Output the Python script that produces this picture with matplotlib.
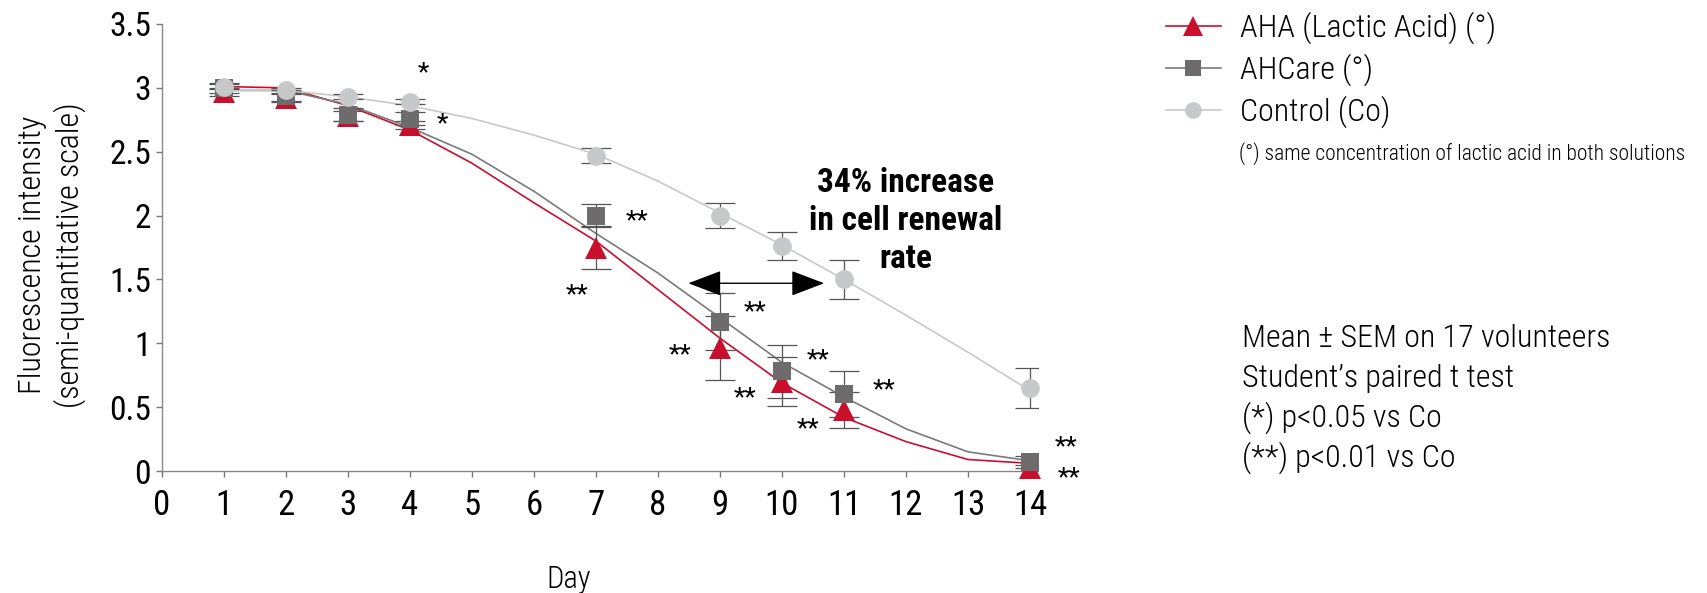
import matplotlib
matplotlib.use("Agg")
import matplotlib.pyplot as plt
from matplotlib import font_manager
from matplotlib.lines import Line2D

# condensed sans-serif, the first one that is installed
names = {f.name for f in font_manager.fontManager.ttflist}
FONT = 'DejaVu Sans'
for cand in ['Roboto Condensed', 'IBM Plex Sans Condensed', 'Fira Sans Condensed', 'Barlow Condensed']:
    if cand in names:
        FONT = cand
        break
plt.rcParams['font.family'] = [FONT, 'DejaVu Sans']
plt.rcParams['font.weight'] = 'light'

# measured days
days = [1, 2, 3, 4, 7, 9, 10, 11, 14]
aha = [2.97, 2.92, 2.78, 2.71, 1.75, 0.96, 0.70, 0.48, 0.02]
aha_err = [0.03, 0.03, 0.04, 0.03, 0.17, 0.25, 0.19, 0.14, 0.03]
ahcare = [3.00, 2.94, 2.79, 2.76, 2.00, 1.17, 0.78, 0.60, 0.07]
ahcare_err = [0.04, 0.04, 0.05, 0.05, 0.09, 0.22, 0.21, 0.18, 0.05]
control = [3.01, 2.98, 2.93, 2.89, 2.47, 2.00, 1.76, 1.50, 0.65]
control_err = [0.02, 0.02, 0.02, 0.02, 0.06, 0.10, 0.11, 0.15, 0.155]

# trend curves
curve_days = [1, 2, 3, 4, 5, 6, 7, 8, 9, 10, 11, 12, 13, 14]
aha_curve = [3.01, 3.00, 2.86, 2.67, 2.41, 2.10, 1.80, 1.42, 1.04, 0.69, 0.42, 0.23, 0.09, 0.06]
ahcare_curve = [2.98, 2.98, 2.87, 2.69, 2.48, 2.19, 1.86, 1.55, 1.20, 0.85, 0.58, 0.33, 0.15, 0.08]
control_curve = [2.98, 2.98, 2.93, 2.86, 2.76, 2.63, 2.48, 2.27, 2.02, 1.77, 1.50, 1.22, 0.93, 0.63]

# significance stars: (x, y, text)
stars = [(4.22, 3.17, '*'), (4.53, 2.77, '*'), (7.66, 2.01, '**'), (6.69, 1.43, '**'),
         (9.57, 1.30, '**'), (8.36, 0.96, '**'), (10.58, 0.92, '**'), (9.41, 0.62, '**'),
         (11.65, 0.69, '**'), (10.42, 0.38, '**'), (14.58, 0.24, '**'), (14.63, 0.00, '**')]

x_ticks = list(range(0, 15))
y_ticks = [0, 0.5, 1, 1.5, 2, 2.5, 3, 3.5]
y_labels = ['0', '0.5', '1', '1.5', '2', '2.5', '3', '3.5']

labels = ['AHA (Lactic Acid) (°)', 'AHCare (°)', 'Control (Co)']
stats_lines = ['Mean ± SEM on 17 volunteers', 'Student’s paired t test',
               '(*) p<0.05 vs Co', '(**) p<0.01 vs Co']

RED = '#c8102e'
DARK = '#6d6b6c'
DARK_LINE = '#7a7a7a'
LIGHT = '#c7c8ca'
ERR = '#555555'

W, H = 1707, 593
fig = plt.figure(figsize=(W / 100, H / 100), dpi=100)
ax = fig.add_axes([162 / W, 1 - 471 / H, 876 / W, 447 / H])

ax.plot(curve_days, aha_curve, color=RED, lw=1.2, zorder=2)
ax.plot(curve_days, ahcare_curve, color=DARK_LINE, lw=1.2, zorder=2)
ax.plot(curve_days, control_curve, color=LIGHT, lw=1.2, zorder=2)

for vals, err, col, mk, ms in [(aha, aha_err, RED, '^', 16),
                               (ahcare, ahcare_err, DARK, 's', 13),
                               (control, control_err, LIGHT, 'o', 13.5)]:
    ax.errorbar(days, vals, yerr=err, fmt='none', ecolor=ERR, elinewidth=0.9,
                capsize=11, capthick=0.9, zorder=3)
    ax.plot(days, vals, linestyle='none', marker=mk, ms=ms, color=col,
            markeredgewidth=0, zorder=4, clip_on=False)

for x, y, s in stars:
    ax.annotate(s, (x, y), xytext=(0, -10), textcoords='offset points',
                ha='center', va='baseline', fontsize=19, fontweight='normal',
                annotation_clip=False)

ax.annotate('', xy=(8.49, 1.47), xytext=(10.68, 1.47),
            arrowprops=dict(arrowstyle='<|-|>,head_length=1.05,head_width=0.4',
                            color='black', lw=1, shrinkA=0, shrinkB=0,
                            mutation_scale=20))
ax.text(12.0, 1.96, '34% increase\nin cell renewal\nrate', ha='center', va='center',
        fontsize=24, fontweight='bold', linespacing=1.24)

ax.set_xlim(0, 14.13)
ax.set_ylim(0, 3.5)
ax.set_xticks(x_ticks)
ax.set_xticklabels([str(t) for t in x_ticks], fontweight='normal')
ax.set_yticks(y_ticks)
ax.set_yticklabels(y_labels, fontweight='normal')
ax.tick_params(axis='both', colors='#777777', labelcolor='black', width=1)
ax.tick_params(axis='x', length=4, pad=9, labelsize=25)
ax.tick_params(axis='y', length=4, pad=4, labelsize=24)
for side in ['top', 'right']:
    ax.spines[side].set_visible(False)
for side in ['left', 'bottom']:
    ax.spines[side].set_color('#888888')
    ax.spines[side].set_linewidth(1)

fig.text(569 / W, 1 - 588 / H, 'Day', fontsize=22, ha='center', va='baseline')
fig.text(52 / W, 1 - 255 / H, 'Fluorescence intensity\n(semi-quantitative scale)',
         fontsize=23, rotation=90, ha='center', va='center', linespacing=1.3,
         multialignment='center')

handles = [Line2D([], [], color=RED, marker='^', ms=15, markeredgewidth=0, lw=1.2),
           Line2D([], [], color=DARK_LINE, marker='s', markerfacecolor=DARK, ms=12,
                  markeredgewidth=0, lw=1.2),
           Line2D([], [], color=LIGHT, marker='o', ms=12, markeredgewidth=0, lw=1.2)]
fig.legend(handles, labels, loc='upper left', bbox_to_anchor=(1166 / W, 1 - 12 / H),
           frameon=False, fontsize=23, handlelength=1.72, handletextpad=0.6,
           labelspacing=0.3, borderpad=0, borderaxespad=0)

fig.text(1239 / W, 1 - 154 / H, '(°) same concentration of lactic acid in both solutions',
         fontsize=15.5, va='center', ha='left')

for i, line in enumerate(stats_lines):
    fig.text(1242 / W, 1 - (347 + 40 * i) / H, line, fontsize=23, va='baseline', ha='left')

fig.savefig('out.png', dpi=100)
